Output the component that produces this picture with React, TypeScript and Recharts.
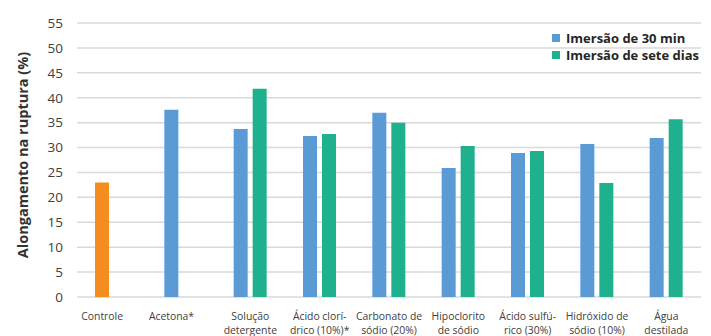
import React from "react";
import { BarChart, Bar, XAxis, YAxis, CartesianGrid, Cell } from "recharts";

const categories = [
  "Controle",
  "Acetona*",
  "Solução\ndetergente",
  "Ácido clorí-\ndrico (10%)*",
  "Carbonato de\nsódio (20%)",
  "Hipoclorito\nde sódio",
  "Ácido sulfú-\nrico (30%)",
  "Hidróxido de\nsódio (10%)",
  "Água\ndestilada",
];
const imersao30min: (number | null)[] = [23.0, 37.6, 33.7, 32.3, 37.0, 25.9, 28.9, 30.7, 31.9];
const imersaoSeteDias: (number | null)[] = [null, null, 41.8, 32.7, 35.0, 30.3, 29.3, 22.9, 35.7];
const yTicks = [0, 5, 10, 15, 20, 25, 30, 35, 40, 45, 50, 55];
const seriesNames = ["Imersão de 30 min", "Imersão de sete dias"];
const controlCategory = "Controle";

const BLUE = "#5b9bd5";
const GREEN = "#1fb08d";
const ORANGE = "#f58c1e";
const FONT = "'Open Sans', 'Noto Sans', sans-serif";
const BAR_SIZE = 14;
const BAR_GAP = 5;

const data = categories.map((c, i) => ({
  name: c,
  a: imersao30min[i],
  b: imersaoSeteDias[i],
}));

const XTick = (props: any) => {
  const { x, y, payload, index } = props;
  const lines = String(payload.value).split("\n");
  const single = imersaoSeteDias[index] == null;
  const cx = x + (single ? -(BAR_SIZE + BAR_GAP) / 2 : 0);
  return (
    <text x={cx} y={y} textAnchor="middle" fontFamily={FONT} fontSize={10.4} fill="#404040">
      {lines.map((l, i) => (
        <tspan key={i} x={cx} y={y + 23 + i * 13.5}>
          {l}
        </tspan>
      ))}
    </text>
  );
};

export default function App() {
  return (
    <div style={{ position: "absolute", left: 0, top: 0, width: 711, height: 336, background: "#fff" }}>
      <BarChart
        width={711}
        height={336}
        data={data}
        margin={{ top: 23, right: 10, bottom: 0, left: 0 }}
        barSize={BAR_SIZE}
        barGap={BAR_GAP}
      >
        <CartesianGrid vertical={false} stroke="#d9d9d9" strokeWidth={1.5} />
        <XAxis
          dataKey="name"
          axisLine={false}
          tickLine={false}
          tickSize={0}
          tickMargin={0}
          height={39}
          interval={0}
          tick={<XTick />}
        />
        <YAxis
          domain={[0, 55]}
          ticks={yTicks}
          width={77}
          axisLine={false}
          tickLine={false}
          tickSize={0}
          tickMargin={14}
          interval={0}
          tick={{ fontFamily: FONT, fontSize: 13.5, fill: "#404040" }}
          label={{
            content: () => (
              <text
                x={22}
                y={155}
                transform="rotate(-90, 22, 155)"
                textAnchor="middle"
                dominantBaseline="central"
                fontFamily={FONT}
                fontSize={14.5}
                fontWeight="bold"
                fill="#333333"
              >
                Alongamento na ruptura (%)
              </text>
            ),
          }}
        />
        <Bar dataKey="a" name={seriesNames[0]} fill={BLUE} isAnimationActive={false}>
          {data.map((d, i) => (
            <Cell key={i} fill={d.name === controlCategory ? ORANGE : BLUE} />
          ))}
        </Bar>
        <Bar dataKey="b" name={seriesNames[1]} fill={GREEN} isAnimationActive={false} />
      </BarChart>
      <div
        style={{
          position: "absolute",
          left: 552,
          top: 30,
          fontFamily: FONT,
          fontSize: 13,
          fontWeight: "bold",
          color: "#262626",
          lineHeight: "16.5px",
        }}
      >
        {seriesNames.map((n, i) => (
          <div key={n} style={{ display: "flex", alignItems: "center", whiteSpace: "nowrap" }}>
            <span
              style={{
                display: "inline-block",
                width: 8,
                height: 8,
                background: i === 0 ? BLUE : GREEN,
                marginRight: 6,
              }}
            />
            {n}
          </div>
        ))}
      </div>
    </div>
  );
}
